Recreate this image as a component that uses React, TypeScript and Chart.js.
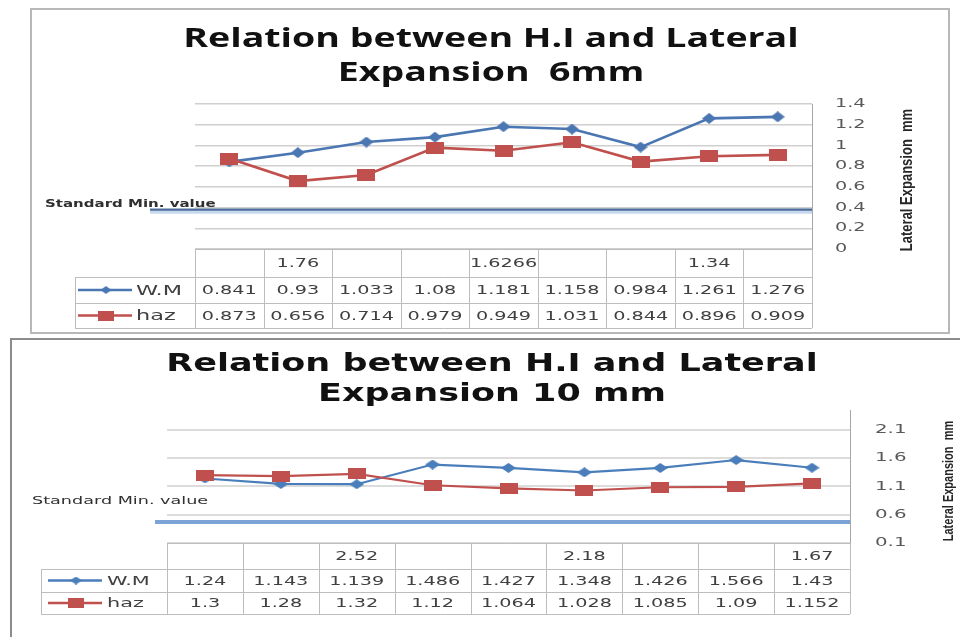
import React, { useEffect, useRef } from "react";
import { Chart, registerables } from "chart.js";
Chart.register(...registerables);

// ---------- data ----------
const SERIES_NAMES = ["W.M", "haz"];
const Y_TITLE = "Lateral Expansion  mm";
const STD_LABEL = "Standard Min. value";

const TITLE_6 = ["Relation between H.I and Lateral", "Expansion  6mm"];
const HI_6 = ["", "1.76", "", "", "1.6266", "", "", "1.34", ""];
const WM_6 = [0.841, 0.93, 1.033, 1.08, 1.181, 1.158, 0.984, 1.261, 1.276];
const HAZ_6 = [0.873, 0.656, 0.714, 0.979, 0.949, 1.031, 0.844, 0.896, 0.909];
const TICKS_6 = [0, 0.2, 0.4, 0.6, 0.8, 1, 1.2, 1.4];
const STD_MIN_6 = 0.38;

const TITLE_10 = ["Relation between H.I and Lateral", "Expansion 10 mm"];
const HI_10 = ["", "", "2.52", "", "", "2.18", "", "", "1.67"];
const WM_10 = [1.24, 1.143, 1.139, 1.486, 1.427, 1.348, 1.426, 1.566, 1.43];
const HAZ_10 = [1.3, 1.28, 1.32, 1.12, 1.064, 1.028, 1.085, 1.09, 1.152];
const TICKS_10 = [0.1, 0.6, 1.1, 1.6, 2.1];
const STD_MIN_10 = 0.47;

// ---------- helpers ----------
function sText(
  ctx: CanvasRenderingContext2D,
  s: string,
  x: number,
  y: number,
  font: string,
  color: string,
  align: CanvasTextAlign,
  sx: number,
  rot = 0
) {
  ctx.save();
  ctx.font = font;
  ctx.fillStyle = color;
  ctx.textBaseline = "middle";
  ctx.textAlign = align;
  ctx.translate(x, y);
  ctx.scale(sx, 1);
  if (rot) ctx.rotate(rot);
  ctx.fillText(s, 0, 0);
  ctx.restore();
}

function diamond(w: number, h: number, color: string) {
  const c = document.createElement("canvas");
  c.width = w;
  c.height = h;
  const g = c.getContext("2d")!;
  g.fillStyle = color;
  g.beginPath();
  g.moveTo(w / 2, 0);
  g.lineTo(w, h / 2);
  g.lineTo(w / 2, h);
  g.lineTo(0, h / 2);
  g.closePath();
  g.fill();
  return c;
}
function square(w: number, h: number, color: string) {
  const c = document.createElement("canvas");
  c.width = w;
  c.height = h;
  const g = c.getContext("2d")!;
  g.fillStyle = color;
  g.fillRect(0, 0, w, h);
  return c;
}

type Spec = {
  w: number;
  h: number;
  area: { l: number; r: number; t: number; b: number };
  yMin: number;
  yMax: number;
  ticks: number[];
  labels: string[];
  wm: number[];
  haz: number[];
  std: number;
  title: string[];
  titleFont: string;
  titleX: number;
  titleY: number[];
  titleSx: number;
  rows: number[];
  legendLeft: number;
  legendLine: number[];
  legendMarkerX: number;
  legendLabelX: number;
  legendFont: string;
  stdX0: number;
  stdLabelPos: number[];
  stdLabelFont: string;
  stdLabelSx: number;
  stdDraw: (ctx: CanvasRenderingContext2D, x0: number, x1: number, y: number) => void;
  tickX: number;
  tickFont: string;
  tickSx: number;
  tableFont: string;
  tableSx: number;
  yTitlePos: number[];
  yTitleFont: string;
  yTitleSx: number;
  blue: string;
  red: string;
  lineWidth: number;
  gridColor: string;
  gridWidth: number;
  marks: { d: number[]; s: number[]; ld: number[]; ls: number[] };
};

const SPEC_6: Spec = {
  w: 920,
  h: 326,
  area: { l: 165, r: 782, t: 96, b: 241 },
  yMin: 0,
  yMax: 1.4,
  ticks: TICKS_6,
  labels: HI_6,
  wm: WM_6,
  haz: HAZ_6,
  std: STD_MIN_6,
  title: TITLE_6,
  titleFont: 'bold 27px "Open Sans"',
  titleX: 461,
  titleY: [31, 65],
  titleSx: 1.39,
  rows: [241, 269, 295, 320],
  legendLeft: 45,
  legendLine: [48, 102],
  legendMarkerX: 76,
  legendLabelX: 106,
  legendFont: '14px "DejaVu Sans"',
  stdX0: 120,
  stdLabelPos: [15, 196],
  stdLabelFont: 'bold 10px "DejaVu Sans"',
  stdLabelSx: 1.5,
  stdDraw: (ctx, x0, x1, y) => {
    ctx.save();
    ctx.strokeStyle = "#c8d8ee";
    ctx.lineWidth = 4;
    ctx.beginPath();
    ctx.moveTo(x0, y + 2);
    ctx.lineTo(x1, y + 2);
    ctx.stroke();
    ctx.strokeStyle = "#4d6d9a";
    ctx.lineWidth = 2.2;
    ctx.beginPath();
    ctx.moveTo(x0, y);
    ctx.lineTo(x1, y);
    ctx.stroke();
    ctx.restore();
  },
  tickX: 805,
  tickFont: '12px "DejaVu Sans"',
  tickSx: 1.6,
  tableFont: '12px "DejaVu Sans"',
  tableSx: 1.6,
  yTitlePos: [878, 172],
  yTitleFont: 'bold 13px "Liberation Sans"',
  yTitleSx: 1.25,
  blue: "#4a76b2",
  red: "#c0504d",
  lineWidth: 2.6,
  gridColor: "#cfcfcf",
  gridWidth: 1.5,
  marks: { d: [14, 11], s: [18, 12], ld: [11, 8], ls: [16, 10] },
};

const SPEC_10: Spec = {
  w: 950,
  h: 299,
  area: { l: 157, r: 840, t: 72, b: 205 },
  yMin: 0.1,
  yMax: 2.45,
  ticks: TICKS_10,
  labels: HI_10,
  wm: WM_10,
  haz: HAZ_10,
  std: STD_MIN_10,
  title: TITLE_10,
  titleFont: 'bold 25px "DejaVu Sans"',
  titleX: 482,
  titleY: [26, 56],
  titleSx: 1.4,
  rows: [205, 231, 254, 276],
  legendLeft: 31,
  legendLine: [38, 92],
  legendMarkerX: 66,
  legendLabelX: 97,
  legendFont: '13px "DejaVu Sans"',
  stdX0: 145,
  stdLabelPos: [22, 163],
  stdLabelFont: '11px "DejaVu Sans"',
  stdLabelSx: 1.6,
  stdDraw: (ctx, x0, x1, y) => {
    ctx.save();
    ctx.strokeStyle = "#7ba3d6";
    ctx.lineWidth = 4;
    ctx.beginPath();
    ctx.moveTo(x0, y);
    ctx.lineTo(x1, y);
    ctx.stroke();
    ctx.restore();
  },
  tickX: 865,
  tickFont: '12px "DejaVu Sans"',
  tickSx: 1.65,
  tableFont: '12px "DejaVu Sans"',
  tableSx: 1.6,
  yTitlePos: [939, 143],
  yTitleFont: 'bold 11px "Liberation Sans"',
  yTitleSx: 1.3,
  blue: "#4a7ebb",
  red: "#c0504d",
  lineWidth: 2.2,
  gridColor: "#dcdcdc",
  gridWidth: 2,
  marks: { d: [15, 10], s: [18, 11], ld: [12, 8], ls: [16, 10] },
};

function makeChart(canvas: HTMLCanvasElement, sp: Spec) {
  const dW = diamond(sp.marks.d[0], sp.marks.d[1], sp.blue);
  const sH = square(sp.marks.s[0], sp.marks.s[1], sp.red);
  const ldW = diamond(sp.marks.ld[0], sp.marks.ld[1], sp.blue);
  const lsH = square(sp.marks.ls[0], sp.marks.ls[1], sp.red);
  const textColor = "#404040";

  const plugin = {
    id: "excelTable",
    beforeDatasetsDraw(chart: any) {
      const ctx = chart.ctx as CanvasRenderingContext2D;
      const ys = chart.scales.y;
      const y = ys.getPixelForValue(sp.std);
      sp.stdDraw(ctx, sp.stdX0, chart.chartArea.right, y);
    },
    afterDraw(chart: any) {
      const ctx = chart.ctx as CanvasRenderingContext2D;
      const { left, right } = chart.chartArea;
      const xs = chart.scales.x;
      const ys = chart.scales.y;
      const n = sp.labels.length;
      const cw = (right - left) / n;
      const [y0, y1, y2, y3] = sp.rows;

      // title
      sp.title.forEach((t, i) =>
        sText(ctx, t, sp.titleX, sp.titleY[i], sp.titleFont, "#111111", "center", sp.titleSx)
      );

      // tick labels from the scale
      ys.ticks.forEach((t: any) => {
        sText(ctx, String(t.value), sp.tickX, ys.getPixelForValue(t.value), sp.tickFont, "#595959", "left", sp.tickSx);
      });

      // y axis title (reads bottom to top)
      sText(ctx, Y_TITLE, sp.yTitlePos[0], sp.yTitlePos[1], sp.yTitleFont, "#262626", "center", sp.yTitleSx, -Math.PI / 2);

      // standard label
      sText(ctx, STD_LABEL, sp.stdLabelPos[0], sp.stdLabelPos[1], sp.stdLabelFont, "#303030", "left", sp.stdLabelSx);

      // table grid
      ctx.save();
      ctx.strokeStyle = "#bdbdbd";
      ctx.lineWidth = 1;
      ctx.beginPath();
      ctx.moveTo(left, y0 + 0.5);
      ctx.lineTo(right, y0 + 0.5);
      [y1, y2, y3].forEach((yy) => {
        ctx.moveTo(sp.legendLeft, yy + 0.5);
        ctx.lineTo(right, yy + 0.5);
      });
      for (let i = 0; i <= n; i++) {
        const x = Math.round(xs.getPixelForValue(Math.min(i, n - 1)) + (i === n ? cw / 2 : -cw / 2)) + 0.5;
        ctx.moveTo(x, y0);
        ctx.lineTo(x, y3);
      }
      ctx.moveTo(sp.legendLeft + 0.5, y1);
      ctx.lineTo(sp.legendLeft + 0.5, y3);
      ctx.stroke();
      ctx.restore();

      // header (H.I) row and value rows
      const series = [sp.wm, sp.haz];
      for (let i = 0; i < n; i++) {
        const cx = xs.getPixelForValue(i);
        if (sp.labels[i]) sText(ctx, sp.labels[i], cx, (y0 + y1) / 2 + 1, sp.tableFont, textColor, "center", sp.tableSx);
        sText(ctx, String(series[0][i]), cx, (y1 + y2) / 2 + 1, sp.tableFont, textColor, "center", sp.tableSx);
        sText(ctx, String(series[1][i]), cx, (y2 + y3) / 2 + 1, sp.tableFont, textColor, "center", sp.tableSx);
      }

      // legend keys in table
      const cols = [sp.blue, sp.red];
      const imgs = [ldW, lsH];
      [0, 1].forEach((k) => {
        const cy = k === 0 ? (y1 + y2) / 2 : (y2 + y3) / 2;
        ctx.save();
        ctx.strokeStyle = cols[k];
        ctx.lineWidth = 2.5;
        ctx.beginPath();
        ctx.moveTo(sp.legendLine[0], cy);
        ctx.lineTo(sp.legendLine[1], cy);
        ctx.stroke();
        const im = imgs[k];
        ctx.drawImage(im, sp.legendMarkerX - im.width / 2, cy - im.height / 2);
        ctx.restore();
        sText(ctx, SERIES_NAMES[k], sp.legendLabelX, cy + 1, sp.legendFont, textColor, "left", sp.tableSx);
      });
    },
  };

  return new Chart(canvas, {
    type: "line",
    data: {
      labels: sp.labels.map((l, i) => l || " ".repeat(i + 1)),
      datasets: [
        {
          label: SERIES_NAMES[0],
          data: sp.wm,
          borderColor: sp.blue,
          backgroundColor: sp.blue,
          borderWidth: sp.lineWidth,
          pointStyle: dW as any,
          pointRadius: 6,
          tension: 0,
          order: 1,
        },
        {
          label: SERIES_NAMES[1],
          data: sp.haz,
          borderColor: sp.red,
          backgroundColor: sp.red,
          borderWidth: sp.lineWidth,
          pointStyle: sH as any,
          pointRadius: 6,
          tension: 0,
          order: 0,
        },
      ],
    },
    options: {
      animation: false,
      responsive: false,
      maintainAspectRatio: false,
      events: [],
      layout: {
        padding: { left: sp.area.l, top: sp.area.t, right: 0, bottom: sp.h - sp.area.b },
      },
      plugins: {
        legend: { display: false },
        title: { display: false },
        tooltip: { enabled: false },
      },
      scales: {
        x: { type: "category", display: false, offset: true },
        y: {
          position: "right",
          min: sp.yMin,
          max: sp.yMax,
          afterBuildTicks: (s: any) => {
            s.ticks = sp.ticks.map((v) => ({ value: v }));
          },
          afterFit: (s: any) => {
            s.width = sp.w - sp.area.r;
          },
          ticks: { display: false },
          grid: { color: sp.gridColor, lineWidth: sp.gridWidth, drawTicks: false },
          border: { display: true, color: "#a6a6a6", width: 1 },
        },
      },
    },
    plugins: [plugin],
  } as any);
}

function Panel({ sp, left, top }: { sp: Spec; left: number; top: number }) {
  const ref = useRef<HTMLCanvasElement>(null);
  useEffect(() => {
    const c = makeChart(ref.current!, sp);
    return () => c.destroy();
  }, [sp]);
  return (
    <canvas
      ref={ref}
      width={sp.w}
      height={sp.h}
      style={{ position: "absolute", left, top, width: sp.w, height: sp.h }}
    />
  );
}

export default function App() {
  return (
    <div
      style={{
        position: "absolute",
        left: 0,
        top: 0,
        width: 960,
        height: 637,
        overflow: "hidden",
        background: "#ffffff",
      }}
    >
      <Panel sp={SPEC_6} left={30} top={8} />
      <div
        style={{
          position: "absolute",
          left: 30,
          top: 8,
          width: 920,
          height: 326,
          border: "2px solid #b8b8b8",
          boxSizing: "border-box",
        }}
      />
      <Panel sp={SPEC_10} left={10} top={338} />
      <div
        style={{
          position: "absolute",
          left: 10,
          top: 338,
          width: 960,
          height: 320,
          border: "2px solid #8c8c8c",
          boxSizing: "border-box",
        }}
      />
    </div>
  );
}
